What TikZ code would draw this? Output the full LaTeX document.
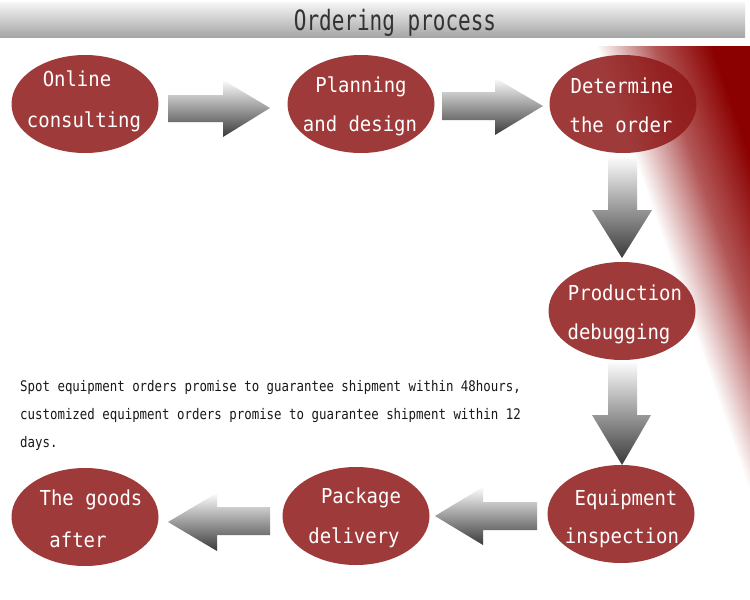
\documentclass[tikz,border=0pt]{standalone}
\usepackage{fontspec}
\newfontfamily\monotitle[FakeStretch=0.75]{DejaVu Sans Mono}
\newfontfamily\mononode[FakeStretch=0.92]{DejaVu Sans Mono}
\newfontfamily\mononote[FakeStretch=0.85]{DejaVu Sans Mono}
\usetikzlibrary{shapes.geometric}
\definecolor{ellred}{RGB}{143,24,24}
\definecolor{bgred}{RGB}{139,0,0}
\definecolor{hdtop}{RGB}{246,246,246}
\definecolor{hdbot}{RGB}{166,166,166}
\definecolor{arrlight}{RGB}{252,252,252}
\definecolor{arrdark}{RGB}{58,58,58}
\definecolor{titlegray}{RGB}{50,50,50}
\definecolor{notegray}{RGB}{25,25,25}
\pgfdeclarehorizontalshading{redramp}{100bp}{color(0bp)=(white); color(25bp)=(white); color(50bp)=(bgred!66); color(75bp)=(bgred); color(100bp)=(bgred)}
\tikzset{
  stage/.style={ellipse, fill=ellred, fill opacity=0.85, draw=none,
    minimum width=147pt, minimum height=98pt, inner sep=0pt},
  stagetext/.style={anchor=base, text=white, text opacity=1,
    font=\mononode\fontsize{20.6}{24}\selectfont, inner sep=0pt},
  blockarrow/.style={top color=arrlight, bottom color=arrdark, draw=none},
  notetext/.style={anchor=base west, text=notegray,
    font=\mononote\fontsize{14.6}{17}\selectfont, inner sep=0pt},
  titletext/.style={anchor=base, text=titlegray,
    font=\monotitle\fontsize{28}{32}\selectfont, inner sep=0pt},
}
\begin{document}
\begin{tikzpicture}[x=1pt,y=-1pt]
\useasboundingbox (0,0) rectangle (750,600);
\fill[white] (0,0) rectangle (750,600);

% header band
\shade[top color=hdtop, bottom color=hdbot] (0,2) rectangle (745,37);
\node[titletext] (title) at (395,30) {Ordering process};

% red background at the right
\begin{scope}
  \clip (560,46) rectangle (750,600);
  \begin{scope}[transform canvas={rotate around={19:(596,46)}}]
    \shade[shading=redramp] (596,-400) rectangle (706,1000);
    \fill[bgred] (705.5,-400) rectangle (1100,1000);
  \end{scope}
\end{scope}

% block arrows
\shade[blockarrow] (168,95) -- (223,95) -- (223,80) -- (270,108) -- (223,137) -- (223,122) -- (168,122) -- cycle;
\shade[blockarrow] (442,92) -- (495,92) -- (495,78) -- (543,106) -- (495,135) -- (495,120) -- (442,120) -- cycle;
\shade[blockarrow] (608,157) -- (637,157) -- (637,210) -- (652,210) -- (622,258) -- (592,210) -- (608,210) -- cycle;
\shade[blockarrow] (608,362) -- (637,362) -- (637,415) -- (651,415) -- (622,465) -- (592,415) -- (608,415) -- cycle;
\shade[blockarrow] (537,502) -- (483,502) -- (483,487) -- (435,516) -- (483,545) -- (483,530) -- (537,530) -- cycle;
\shade[blockarrow] (270,507) -- (217,507) -- (217,493) -- (168,522) -- (217,551) -- (217,535) -- (270,535) -- cycle;

% stages
\node[stage] (e1) at (85,104) {};
\node[stage] (e2) at (361,104) {};
\node[stage] (e3) at (623,104) {};
\node[stage] (e4) at (622,311) {};
\node[stage] (e5) at (621,514) {};
\node[stage] (e6) at (356,516) {};
\node[stage] (e7) at (85,517) {};

\node[stagetext] (t1a) at (77,86) {Online};
\node[stagetext] (t1b) at (84,127) {consulting};
\node[stagetext] (t2a) at (361,92) {Planning};
\node[stagetext] (t2b) at (360,131) {and design};
\node[stagetext] (t3a) at (622,93) {Determine};
\node[stagetext] (t3b) at (621,132) {the order};
\node[stagetext] (t4a) at (625,300) {Production};
\node[stagetext] (t4b) at (619,339) {debugging};
\node[stagetext] (t5a) at (626,505) {Equipment};
\node[stagetext] (t5b) at (622,543) {inspection};
\node[stagetext] (t6a) at (361,503) {Package};
\node[stagetext] (t6b) at (354,543) {delivery};
\node[stagetext] (t7a) at (91,505) {The goods};
\node[stagetext] (t7b) at (78,547) {after};

% note
\node[notetext] (n1) at (20,391) {Spot equipment orders promise to guarantee shipment within 48hours,};
\node[notetext] (n2) at (20,419) {customized equipment orders promise to guarantee shipment within 12};
\node[notetext] (n3) at (20,447) {days.};
\end{tikzpicture}
\end{document}
